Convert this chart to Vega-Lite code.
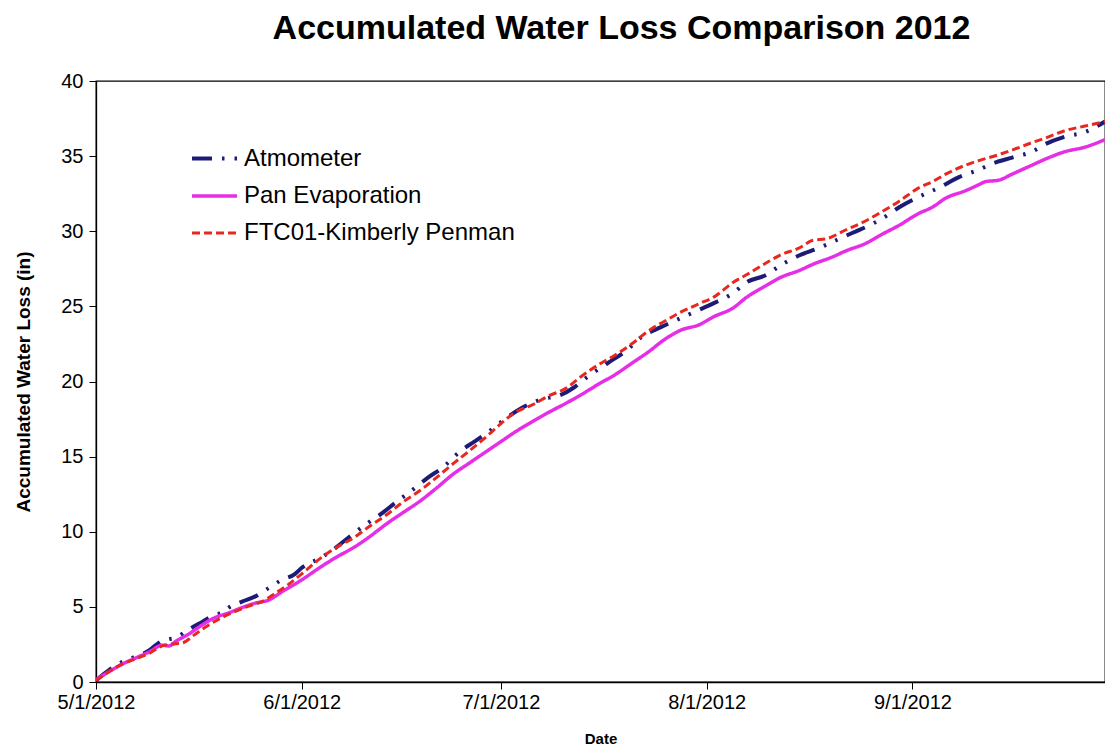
{
  "$schema": "https://vega.github.io/schema/vega-lite/v6.json",
  "width": 1009,
  "height": 601,
  "autosize": {"type": "none"},
  "padding": {"left": 96, "top": 81, "right": 0, "bottom": 66},
  "background": "white",
  "title": {"text": "Accumulated Water Loss Comparison 2012", "font": "Liberation Sans", "fontSize": 34, "fontWeight": "bold", "color": "#000", "anchor": "middle", "dx": 21, "offset": 25},
  "config": {
    "view": {"stroke": "#000", "strokeWidth": 1.3},
    "axis": {"domainColor": "#000", "domainWidth": 1.3, "tickColor": "#000", "tickWidth": 1, "labelColor": "#000", "labelFont": "Liberation Sans", "labelFontSize": 20, "tickSize": 7, "grid": false, "titleFont": "Liberation Sans", "titleFontWeight": "bold", "titleColor": "#000"},
    "legend": {"symbolType": "stroke", "symbolSize": 2025, "symbolStrokeWidth": 3.5, "labelFont": "Liberation Sans", "labelFontSize": 24, "labelColor": "#000", "labelOffset": 5, "rowPadding": 0.5, "labelLimit": 400}
  },
  "data": {
    "format": {"parse": {"date": "date:'%Y-%m-%d'"}},
    "values": [
      {"date": "2012-05-01", "series": "Atmometer", "value": 0.1},
      {"date": "2012-05-03", "series": "Atmometer", "value": 0.8},
      {"date": "2012-05-05", "series": "Atmometer", "value": 1.35},
      {"date": "2012-05-07", "series": "Atmometer", "value": 1.7},
      {"date": "2012-05-09", "series": "Atmometer", "value": 2.1},
      {"date": "2012-05-10", "series": "Atmometer", "value": 2.45},
      {"date": "2012-05-11", "series": "Atmometer", "value": 2.75},
      {"date": "2012-05-12", "series": "Atmometer", "value": 2.85},
      {"date": "2012-05-13", "series": "Atmometer", "value": 2.95},
      {"date": "2012-05-15", "series": "Atmometer", "value": 3.5},
      {"date": "2012-05-17", "series": "Atmometer", "value": 4.0},
      {"date": "2012-05-19", "series": "Atmometer", "value": 4.5},
      {"date": "2012-05-20", "series": "Atmometer", "value": 4.6},
      {"date": "2012-05-21", "series": "Atmometer", "value": 4.95},
      {"date": "2012-05-23", "series": "Atmometer", "value": 5.35},
      {"date": "2012-05-25", "series": "Atmometer", "value": 5.7},
      {"date": "2012-05-27", "series": "Atmometer", "value": 6.25},
      {"date": "2012-05-29", "series": "Atmometer", "value": 6.8},
      {"date": "2012-05-31", "series": "Atmometer", "value": 7.2},
      {"date": "2012-06-01", "series": "Atmometer", "value": 7.6},
      {"date": "2012-06-04", "series": "Atmometer", "value": 8.3},
      {"date": "2012-06-06", "series": "Atmometer", "value": 8.9},
      {"date": "2012-06-08", "series": "Atmometer", "value": 9.6},
      {"date": "2012-06-11", "series": "Atmometer", "value": 10.6},
      {"date": "2012-06-13", "series": "Atmometer", "value": 11.2},
      {"date": "2012-06-15", "series": "Atmometer", "value": 11.9},
      {"date": "2012-06-18", "series": "Atmometer", "value": 12.9},
      {"date": "2012-06-20", "series": "Atmometer", "value": 13.6},
      {"date": "2012-06-22", "series": "Atmometer", "value": 14.2},
      {"date": "2012-06-25", "series": "Atmometer", "value": 15.4},
      {"date": "2012-06-27", "series": "Atmometer", "value": 16.0},
      {"date": "2012-06-29", "series": "Atmometer", "value": 16.6},
      {"date": "2012-07-01", "series": "Atmometer", "value": 17.3},
      {"date": "2012-07-04", "series": "Atmometer", "value": 18.2},
      {"date": "2012-07-07", "series": "Atmometer", "value": 18.8},
      {"date": "2012-07-10", "series": "Atmometer", "value": 19.1},
      {"date": "2012-07-12", "series": "Atmometer", "value": 19.6},
      {"date": "2012-07-14", "series": "Atmometer", "value": 20.3},
      {"date": "2012-07-17", "series": "Atmometer", "value": 21.2},
      {"date": "2012-07-20", "series": "Atmometer", "value": 22.1},
      {"date": "2012-07-22", "series": "Atmometer", "value": 22.9},
      {"date": "2012-07-25", "series": "Atmometer", "value": 23.6},
      {"date": "2012-07-28", "series": "Atmometer", "value": 24.2},
      {"date": "2012-07-31", "series": "Atmometer", "value": 24.8},
      {"date": "2012-08-02", "series": "Atmometer", "value": 25.2},
      {"date": "2012-08-05", "series": "Atmometer", "value": 25.9},
      {"date": "2012-08-07", "series": "Atmometer", "value": 26.6},
      {"date": "2012-08-10", "series": "Atmometer", "value": 27.1},
      {"date": "2012-08-12", "series": "Atmometer", "value": 27.7},
      {"date": "2012-08-15", "series": "Atmometer", "value": 28.4},
      {"date": "2012-08-18", "series": "Atmometer", "value": 28.9},
      {"date": "2012-08-20", "series": "Atmometer", "value": 29.3},
      {"date": "2012-08-23", "series": "Atmometer", "value": 29.9},
      {"date": "2012-08-26", "series": "Atmometer", "value": 30.5},
      {"date": "2012-08-28", "series": "Atmometer", "value": 31.0},
      {"date": "2012-08-30", "series": "Atmometer", "value": 31.6},
      {"date": "2012-09-02", "series": "Atmometer", "value": 32.3},
      {"date": "2012-09-05", "series": "Atmometer", "value": 32.9},
      {"date": "2012-09-08", "series": "Atmometer", "value": 33.6},
      {"date": "2012-09-11", "series": "Atmometer", "value": 34.1},
      {"date": "2012-09-13", "series": "Atmometer", "value": 34.5},
      {"date": "2012-09-16", "series": "Atmometer", "value": 34.9},
      {"date": "2012-09-19", "series": "Atmometer", "value": 35.3},
      {"date": "2012-09-21", "series": "Atmometer", "value": 35.8},
      {"date": "2012-09-24", "series": "Atmometer", "value": 36.3},
      {"date": "2012-09-27", "series": "Atmometer", "value": 36.6},
      {"date": "2012-09-30", "series": "Atmometer", "value": 37.3},

      {"date": "2012-05-01", "series": "Pan Evaporation", "value": 0.15},
      {"date": "2012-05-03", "series": "Pan Evaporation", "value": 0.7},
      {"date": "2012-05-05", "series": "Pan Evaporation", "value": 1.2},
      {"date": "2012-05-07", "series": "Pan Evaporation", "value": 1.6},
      {"date": "2012-05-09", "series": "Pan Evaporation", "value": 2.0},
      {"date": "2012-05-11", "series": "Pan Evaporation", "value": 2.45},
      {"date": "2012-05-12", "series": "Pan Evaporation", "value": 2.4},
      {"date": "2012-05-13", "series": "Pan Evaporation", "value": 2.7},
      {"date": "2012-05-15", "series": "Pan Evaporation", "value": 3.2},
      {"date": "2012-05-17", "series": "Pan Evaporation", "value": 3.8},
      {"date": "2012-05-19", "series": "Pan Evaporation", "value": 4.3},
      {"date": "2012-05-21", "series": "Pan Evaporation", "value": 4.6},
      {"date": "2012-05-23", "series": "Pan Evaporation", "value": 4.95},
      {"date": "2012-05-25", "series": "Pan Evaporation", "value": 5.25},
      {"date": "2012-05-27", "series": "Pan Evaporation", "value": 5.45},
      {"date": "2012-05-29", "series": "Pan Evaporation", "value": 6.0},
      {"date": "2012-06-01", "series": "Pan Evaporation", "value": 6.8},
      {"date": "2012-06-04", "series": "Pan Evaporation", "value": 7.7},
      {"date": "2012-06-06", "series": "Pan Evaporation", "value": 8.25},
      {"date": "2012-06-09", "series": "Pan Evaporation", "value": 9.0},
      {"date": "2012-06-11", "series": "Pan Evaporation", "value": 9.6},
      {"date": "2012-06-14", "series": "Pan Evaporation", "value": 10.6},
      {"date": "2012-06-16", "series": "Pan Evaporation", "value": 11.2},
      {"date": "2012-06-19", "series": "Pan Evaporation", "value": 12.1},
      {"date": "2012-06-21", "series": "Pan Evaporation", "value": 12.8},
      {"date": "2012-06-24", "series": "Pan Evaporation", "value": 13.9},
      {"date": "2012-06-26", "series": "Pan Evaporation", "value": 14.5},
      {"date": "2012-06-29", "series": "Pan Evaporation", "value": 15.4},
      {"date": "2012-07-01", "series": "Pan Evaporation", "value": 16.0},
      {"date": "2012-07-03", "series": "Pan Evaporation", "value": 16.6},
      {"date": "2012-07-06", "series": "Pan Evaporation", "value": 17.4},
      {"date": "2012-07-08", "series": "Pan Evaporation", "value": 17.9},
      {"date": "2012-07-11", "series": "Pan Evaporation", "value": 18.6},
      {"date": "2012-07-13", "series": "Pan Evaporation", "value": 19.1},
      {"date": "2012-07-16", "series": "Pan Evaporation", "value": 19.9},
      {"date": "2012-07-18", "series": "Pan Evaporation", "value": 20.4},
      {"date": "2012-07-21", "series": "Pan Evaporation", "value": 21.3},
      {"date": "2012-07-23", "series": "Pan Evaporation", "value": 21.9},
      {"date": "2012-07-26", "series": "Pan Evaporation", "value": 22.9},
      {"date": "2012-07-28", "series": "Pan Evaporation", "value": 23.4},
      {"date": "2012-07-31", "series": "Pan Evaporation", "value": 23.8},
      {"date": "2012-08-02", "series": "Pan Evaporation", "value": 24.3},
      {"date": "2012-08-05", "series": "Pan Evaporation", "value": 24.9},
      {"date": "2012-08-07", "series": "Pan Evaporation", "value": 25.6},
      {"date": "2012-08-10", "series": "Pan Evaporation", "value": 26.4},
      {"date": "2012-08-12", "series": "Pan Evaporation", "value": 26.9},
      {"date": "2012-08-15", "series": "Pan Evaporation", "value": 27.4},
      {"date": "2012-08-17", "series": "Pan Evaporation", "value": 27.8},
      {"date": "2012-08-20", "series": "Pan Evaporation", "value": 28.3},
      {"date": "2012-08-22", "series": "Pan Evaporation", "value": 28.7},
      {"date": "2012-08-25", "series": "Pan Evaporation", "value": 29.2},
      {"date": "2012-08-27", "series": "Pan Evaporation", "value": 29.7},
      {"date": "2012-08-30", "series": "Pan Evaporation", "value": 30.4},
      {"date": "2012-09-02", "series": "Pan Evaporation", "value": 31.2},
      {"date": "2012-09-04", "series": "Pan Evaporation", "value": 31.6},
      {"date": "2012-09-06", "series": "Pan Evaporation", "value": 32.2},
      {"date": "2012-09-09", "series": "Pan Evaporation", "value": 32.7},
      {"date": "2012-09-11", "series": "Pan Evaporation", "value": 33.1},
      {"date": "2012-09-12", "series": "Pan Evaporation", "value": 33.3},
      {"date": "2012-09-14", "series": "Pan Evaporation", "value": 33.4},
      {"date": "2012-09-16", "series": "Pan Evaporation", "value": 33.8},
      {"date": "2012-09-19", "series": "Pan Evaporation", "value": 34.4},
      {"date": "2012-09-21", "series": "Pan Evaporation", "value": 34.8},
      {"date": "2012-09-24", "series": "Pan Evaporation", "value": 35.3},
      {"date": "2012-09-27", "series": "Pan Evaporation", "value": 35.6},
      {"date": "2012-09-30", "series": "Pan Evaporation", "value": 36.1},

      {"date": "2012-05-01", "series": "FTC01-Kimberly Penman", "value": 0.1},
      {"date": "2012-05-03", "series": "FTC01-Kimberly Penman", "value": 0.7},
      {"date": "2012-05-05", "series": "FTC01-Kimberly Penman", "value": 1.2},
      {"date": "2012-05-07", "series": "FTC01-Kimberly Penman", "value": 1.55},
      {"date": "2012-05-09", "series": "FTC01-Kimberly Penman", "value": 1.9},
      {"date": "2012-05-11", "series": "FTC01-Kimberly Penman", "value": 2.4},
      {"date": "2012-05-13", "series": "FTC01-Kimberly Penman", "value": 2.55},
      {"date": "2012-05-14", "series": "FTC01-Kimberly Penman", "value": 2.6},
      {"date": "2012-05-16", "series": "FTC01-Kimberly Penman", "value": 3.2},
      {"date": "2012-05-18", "series": "FTC01-Kimberly Penman", "value": 3.8},
      {"date": "2012-05-20", "series": "FTC01-Kimberly Penman", "value": 4.3},
      {"date": "2012-05-22", "series": "FTC01-Kimberly Penman", "value": 4.7},
      {"date": "2012-05-24", "series": "FTC01-Kimberly Penman", "value": 5.05},
      {"date": "2012-05-26", "series": "FTC01-Kimberly Penman", "value": 5.35},
      {"date": "2012-05-28", "series": "FTC01-Kimberly Penman", "value": 5.9},
      {"date": "2012-05-30", "series": "FTC01-Kimberly Penman", "value": 6.5},
      {"date": "2012-06-01", "series": "FTC01-Kimberly Penman", "value": 7.2},
      {"date": "2012-06-04", "series": "FTC01-Kimberly Penman", "value": 8.3},
      {"date": "2012-06-06", "series": "FTC01-Kimberly Penman", "value": 8.9},
      {"date": "2012-06-09", "series": "FTC01-Kimberly Penman", "value": 9.65},
      {"date": "2012-06-11", "series": "FTC01-Kimberly Penman", "value": 10.3},
      {"date": "2012-06-14", "series": "FTC01-Kimberly Penman", "value": 11.2},
      {"date": "2012-06-16", "series": "FTC01-Kimberly Penman", "value": 11.9},
      {"date": "2012-06-19", "series": "FTC01-Kimberly Penman", "value": 12.8},
      {"date": "2012-06-21", "series": "FTC01-Kimberly Penman", "value": 13.5},
      {"date": "2012-06-24", "series": "FTC01-Kimberly Penman", "value": 14.6},
      {"date": "2012-06-26", "series": "FTC01-Kimberly Penman", "value": 15.3},
      {"date": "2012-06-29", "series": "FTC01-Kimberly Penman", "value": 16.4},
      {"date": "2012-07-01", "series": "FTC01-Kimberly Penman", "value": 17.2},
      {"date": "2012-07-03", "series": "FTC01-Kimberly Penman", "value": 17.9},
      {"date": "2012-07-06", "series": "FTC01-Kimberly Penman", "value": 18.5},
      {"date": "2012-07-08", "series": "FTC01-Kimberly Penman", "value": 19.0},
      {"date": "2012-07-11", "series": "FTC01-Kimberly Penman", "value": 19.6},
      {"date": "2012-07-13", "series": "FTC01-Kimberly Penman", "value": 20.3},
      {"date": "2012-07-16", "series": "FTC01-Kimberly Penman", "value": 21.2},
      {"date": "2012-07-18", "series": "FTC01-Kimberly Penman", "value": 21.7},
      {"date": "2012-07-21", "series": "FTC01-Kimberly Penman", "value": 22.6},
      {"date": "2012-07-23", "series": "FTC01-Kimberly Penman", "value": 23.3},
      {"date": "2012-07-26", "series": "FTC01-Kimberly Penman", "value": 24.1},
      {"date": "2012-07-28", "series": "FTC01-Kimberly Penman", "value": 24.6},
      {"date": "2012-07-31", "series": "FTC01-Kimberly Penman", "value": 25.2},
      {"date": "2012-08-02", "series": "FTC01-Kimberly Penman", "value": 25.6},
      {"date": "2012-08-05", "series": "FTC01-Kimberly Penman", "value": 26.6},
      {"date": "2012-08-07", "series": "FTC01-Kimberly Penman", "value": 27.1},
      {"date": "2012-08-10", "series": "FTC01-Kimberly Penman", "value": 27.9},
      {"date": "2012-08-12", "series": "FTC01-Kimberly Penman", "value": 28.4},
      {"date": "2012-08-15", "series": "FTC01-Kimberly Penman", "value": 28.9},
      {"date": "2012-08-17", "series": "FTC01-Kimberly Penman", "value": 29.4},
      {"date": "2012-08-19", "series": "FTC01-Kimberly Penman", "value": 29.5},
      {"date": "2012-08-22", "series": "FTC01-Kimberly Penman", "value": 30.1},
      {"date": "2012-08-25", "series": "FTC01-Kimberly Penman", "value": 30.7},
      {"date": "2012-08-27", "series": "FTC01-Kimberly Penman", "value": 31.2},
      {"date": "2012-08-30", "series": "FTC01-Kimberly Penman", "value": 32.0},
      {"date": "2012-09-02", "series": "FTC01-Kimberly Penman", "value": 32.9},
      {"date": "2012-09-04", "series": "FTC01-Kimberly Penman", "value": 33.3},
      {"date": "2012-09-06", "series": "FTC01-Kimberly Penman", "value": 33.8},
      {"date": "2012-09-09", "series": "FTC01-Kimberly Penman", "value": 34.4},
      {"date": "2012-09-11", "series": "FTC01-Kimberly Penman", "value": 34.7},
      {"date": "2012-09-14", "series": "FTC01-Kimberly Penman", "value": 35.1},
      {"date": "2012-09-16", "series": "FTC01-Kimberly Penman", "value": 35.4},
      {"date": "2012-09-19", "series": "FTC01-Kimberly Penman", "value": 35.9},
      {"date": "2012-09-21", "series": "FTC01-Kimberly Penman", "value": 36.2},
      {"date": "2012-09-24", "series": "FTC01-Kimberly Penman", "value": 36.7},
      {"date": "2012-09-27", "series": "FTC01-Kimberly Penman", "value": 37.0},
      {"date": "2012-09-30", "series": "FTC01-Kimberly Penman", "value": 37.3}
    ]
  },
  "mark": {"type": "line", "interpolate": "monotone", "clip": true},
  "encoding": {
    "x": {
      "field": "date", "type": "temporal",
      "scale": {"domain": [{"year": 2012, "month": 5, "date": 1}, {"year": 2012, "month": 9, "date": 30}]},
      "axis": {
        "title": "Date", "titleFontSize": 15, "titlePadding": 19, "labelPadding": 3, "format": "%-m/%-d/%Y", "labelFlush": false,
        "values": [{"year": 2012, "month": 5, "date": 1}, {"year": 2012, "month": 6, "date": 1}, {"year": 2012, "month": 7, "date": 1}, {"year": 2012, "month": 8, "date": 1}, {"year": 2012, "month": 9, "date": 1}]
      }
    },
    "y": {
      "field": "value", "type": "quantitative",
      "scale": {"domain": [0, 40]},
      "axis": {"title": "Accumulated Water Loss (in)", "titleFontSize": 19, "titlePadding": 27, "labelPadding": 6, "values": [0, 5, 10, 15, 20, 25, 30, 35, 40]}
    },
    "color": {
      "field": "series", "type": "nominal",
      "scale": {"domain": ["Atmometer", "Pan Evaporation", "FTC01-Kimberly Penman"], "range": ["#1C1C78", "#E62EE6", "#E8281E"]},
      "legend": {"orient": "none", "legendX": 94, "legendY": 53, "title": null}
    },
    "strokeDash": {
      "field": "series", "type": "nominal",
      "scale": {"domain": ["Atmometer", "Pan Evaporation", "FTC01-Kimberly Penman"], "range": [[20, 10, 2.5, 10, 2.5, 10], [1, 0], [8, 4]]},
      "legend": {"orient": "none", "legendX": 94, "legendY": 53, "title": null}
    },
    "strokeWidth": {
      "field": "series", "type": "nominal",
      "scale": {"domain": ["Atmometer", "Pan Evaporation", "FTC01-Kimberly Penman"], "range": [4, 3, 3.5]},
      "legend": null
    }
  }
}
